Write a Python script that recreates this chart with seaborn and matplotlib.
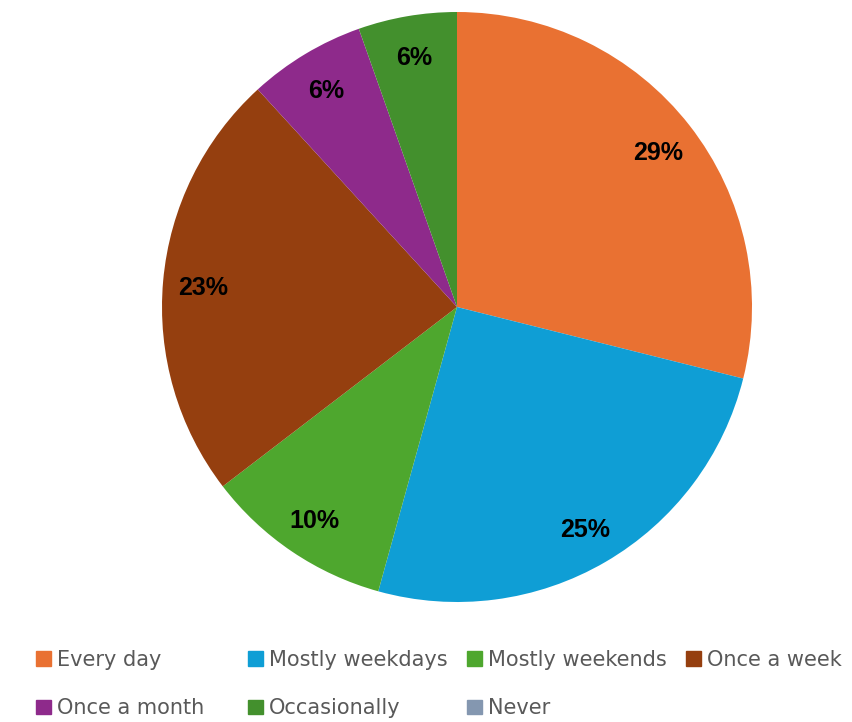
import matplotlib
matplotlib.use("Agg")
import matplotlib.pyplot as plt
import matplotlib.patches as mpatches
import numpy as np
import seaborn as sns

sns.set_theme(style="white")

# data (share of respondents, %)
categories = ["Every day", "Mostly weekdays", "Mostly weekends", "Once a week",
              "Once a month", "Occasionally", "Never"]
shares = [28.9, 25.4, 10.3, 23.6, 6.4, 5.4, 0.0]
shown = ["29%", "25%", "10%", "23%", "6%", "6%", ""]
colors = ["#E97132", "#0F9ED5", "#4EA72E", "#953F0F", "#8E2A8B", "#43902D", "#8497B0"]

fig = plt.figure(figsize=(8.53, 7.22), dpi=100)
ax = fig.add_axes([162 / 853, 120 / 722, 590 / 853, 590 / 722])

wedges, _ = ax.pie(shares, colors=colors, startangle=90, counterclock=False,
                   wedgeprops=dict(linewidth=0))
for w, txt in zip(wedges, shown):
    if not txt:
        continue
    ang = np.deg2rad((w.theta1 + w.theta2) / 2)
    ax.text(0.865 * np.cos(ang), 0.865 * np.sin(ang) - 0.01, txt, ha="center", va="center",
            fontsize=18, fontweight="bold", color="black",
            family=["Liberation Sans", "DejaVu Sans"])
ax.set_xlim(-1, 1)
ax.set_ylim(-1, 1)
ax.set_aspect("equal")
ax.axis("off")

# legend: four evenly spaced columns, two rows
handles = [mpatches.Patch(color=c, label=l) for c, l in zip(colors, categories)]
col_x = [36, 248, 467, 686]
for i, x in enumerate(col_x):
    col = handles[i::4]
    fig.legend(handles=col, loc="upper left", bbox_to_anchor=(x / 853, 1 - 650 / 722),
               frameon=False, handlelength=0.7, handleheight=0.7, handletextpad=0.3,
               labelspacing=1.35, borderaxespad=0, borderpad=0,
               prop=dict(family=["Liberation Sans Narrow", "DejaVu Sans"], size=15),
               labelcolor="#595959")

fig.savefig("out.png", dpi=100)
